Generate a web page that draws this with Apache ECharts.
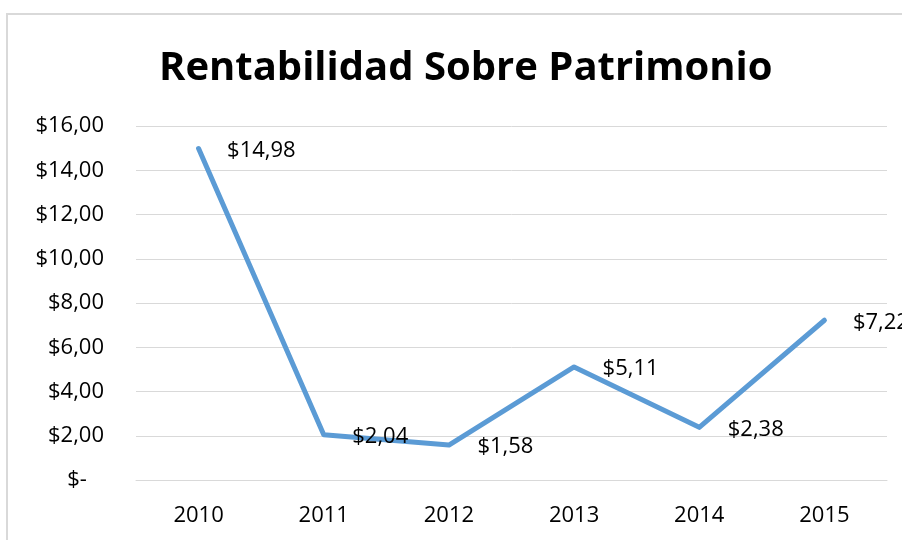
<!DOCTYPE html>
<html>
<head>
<meta charset="utf-8">
<script src="https://cdn.jsdelivr.net/npm/echarts@6/dist/echarts.min.js"></script>
<style>
  html, body { margin: 0; padding: 0; background: #fff; }
  #main { width: 902px; height: 540px; }
</style>
</head>
<body>
<div id="main"></div>
<script>
const years = ['2010', '2011', '2012', '2013', '2014', '2015'];
const rentabilidad = [14.98, 2.04, 1.58, 5.11, 2.38, 7.22];

function money(v) {
    if (v === 0) return '$-   ';
    return '$' + v.toFixed(2).replace('.', ',');
}

const chart = echarts.init(document.getElementById('main'));

const option = {
    backgroundColor: '#fff',
    animation: false,
    textStyle: { fontFamily: 'Open Sans' },
    title: {
        text: 'Rentabilidad Sobre Patrimonio',
        left: 154,
        top: 44,
        textStyle: {
            fontFamily: 'Open Sans',
            fontSize: 40,
            fontWeight: 'bold',
            color: '#000'
        }
    },
    graphic: [{
        type: 'rect',
        shape: { x: 7, y: 14, width: 1000, height: 600 },
        style: { fill: 'none', stroke: '#d9d9d9', lineWidth: 2 },
        silent: true
    }],
    grid: { left: 136, right: 15, top: 126, bottom: 60 },
    xAxis: {
        type: 'category',
        data: years,
        boundaryGap: true,
        axisLine: { show: true, lineStyle: { color: '#d9d9d9', width: 1 } },
        axisTick: { show: false },
        axisLabel: { color: '#000', fontSize: 22, margin: 25 }
    },
    yAxis: {
        type: 'value',
        min: 0,
        max: 16,
        interval: 2,
        axisLine: { show: false },
        axisTick: { show: false },
        splitLine: { lineStyle: { color: '#d9d9d9', width: 1 } },
        axisLabel: {
            color: '#000',
            fontSize: 22,
            margin: 32,
            formatter: money
        }
    },
    series: [{
        type: 'line',
        data: rentabilidad,
        symbol: 'circle',
        symbolSize: 1,
        lineStyle: { color: '#5b9bd5', width: 5, cap: 'round', join: 'round' },
        itemStyle: { color: '#5b9bd5' },
        label: {
            show: true,
            position: 'right',
            distance: 28,
            offset: [0, 2],
            color: '#000',
            fontSize: 22,
            formatter: p => money(p.value)
        }
    }]
};

chart.setOption(option);
</script>
</body>
</html>
